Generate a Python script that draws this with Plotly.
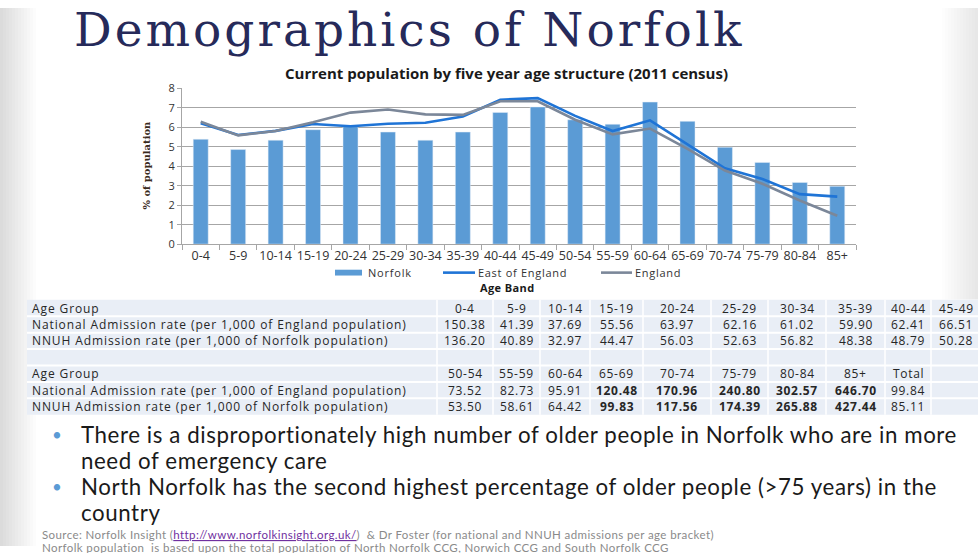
import plotly.graph_objects as go

W, H = 978, 553

# ---------------- data ----------------
age_bands = ["0-4", "5-9", "10-14", "15-19", "20-24", "25-29", "30-34", "35-39", "40-44",
             "45-49", "50-54", "55-59", "60-64", "65-69", "70-74", "75-79", "80-84", "85+"]
norfolk = [5.39, 4.86, 5.34, 5.88, 6.05, 5.76, 5.34, 5.76, 6.77,
           7.05, 6.39, 6.16, 7.30, 6.31, 4.98, 4.20, 3.17, 2.97]
east_of_england = [6.21, 5.61, 5.82, 6.17, 6.06, 6.19, 6.24, 6.56, 7.42,
                   7.50, 6.59, 5.81, 6.36, 5.15, 3.90, 3.35, 2.57, 2.44]
england = [6.29, 5.59, 5.81, 6.26, 6.76, 6.92, 6.67, 6.64, 7.34,
           7.34, 6.39, 5.64, 5.94, 4.90, 3.78, 3.10, 2.24, 1.46]

table_groups_1 = ["0-4", "5-9", "10-14", "15-19", "20-24", "25-29", "30-34", "35-39", "40-44", "45-49"]
national_rate_1 = [150.38, 41.39, 37.69, 55.56, 63.97, 62.16, 61.02, 59.90, 62.41, 66.51]
nnuh_rate_1 = [136.20, 40.89, 32.97, 44.47, 56.03, 52.63, 56.82, 48.38, 48.79, 50.28]
table_groups_2 = ["50-54", "55-59", "60-64", "65-69", "70-74", "75-79", "80-84", "85+", "Total"]
national_rate_2 = [73.52, 82.73, 95.91, 120.48, 170.96, 240.80, 302.57, 646.70, 99.84]
nnuh_rate_2 = [53.50, 58.61, 64.42, 99.83, 117.56, 174.39, 265.88, 427.44, 85.11]
bold_groups = ["65-69", "70-74", "75-79", "80-84", "85+"]

row_labels = ["Age Group",
              "National Admission rate (per 1,000 of England population)",
              "NNUH Admission rate (per 1,000 of Norfolk population)"]


def px(x):
    return x / W


def py(y):
    return 1 - y / H


def spaced(text, ls):
    return f"<span style='letter-spacing:{ls}px'>{text}</span>"


BAR_BLUE = "#5b9bd5"
LINE_BLUE = "#1f74d6"
LINE_GREY = "#7b8799"
GRID = "#a6a6a6"
TXT = "#262626"

fig = go.Figure()

fig.add_trace(go.Bar(x=age_bands, y=norfolk, name="Norfolk", marker_color=BAR_BLUE,
                     showlegend=False))
fig.add_trace(go.Scatter(x=age_bands, y=east_of_england, name="East of England", mode="lines",
                         line=dict(color=LINE_BLUE, width=2.6), showlegend=False))
fig.add_trace(go.Scatter(x=age_bands, y=england, name="England", mode="lines",
                         line=dict(color=LINE_GREY, width=2.6), showlegend=False))

shapes = []
annotations = []


def ann(text, x, y, size, color=TXT, family="Lato", xanchor="left", yanchor="middle", **kw):
    annotations.append(dict(text=text, x=px(x), y=py(y), xref="paper", yref="paper",
                            showarrow=False, xanchor=xanchor, yanchor=yanchor,
                            font=dict(family=family, size=size, color=color), **kw))


# soft grey slide edges
for i in range(12):
    shapes.append(dict(type="rect", xref="paper", yref="paper", layer="below",
                       x0=0, x1=px(3 * (i + 1)), y0=0, y1=1,
                       fillcolor="rgba(0,0,0,0.012)", line=dict(width=0)))
    shapes.append(dict(type="rect", xref="paper", yref="paper", layer="below",
                       x0=px(W - 3 * (i + 1)), x1=1, y0=py(300), y1=1,
                       fillcolor="rgba(0,0,0,0.008)", line=dict(width=0)))

# ---------------- table (drawn as cells) ----------------
TABLE_FILL = "#e9eef6"
col_edges = [27, 437, 493, 540, 590, 643, 711, 768, 826, 885, 931, 990]
row_top, row_h, n_rows = 300, 16.86, 7

rows = []
rows.append([row_labels[0]] + table_groups_1)
rows.append([row_labels[1]] + [f"{v:.2f}" for v in national_rate_1])
rows.append([row_labels[2]] + [f"{v:.2f}" for v in nnuh_rate_1])
rows.append([""] * 11)
rows.append([row_labels[0]] + table_groups_2 + [""])


def fmt(v, grp):
    s = f"{v:.2f}"
    return f"<b>{s}</b>" if grp in bold_groups else s


rows.append([row_labels[1]] + [fmt(v, g) for v, g in zip(national_rate_2, table_groups_2)] + [""])
rows.append([row_labels[2]] + [fmt(v, g) for v, g in zip(nnuh_rate_2, table_groups_2)] + [""])

shapes.append(dict(type="rect", xref="paper", yref="paper",
                   x0=px(col_edges[0]), x1=1, y0=py(row_top + n_rows * row_h), y1=py(row_top),
                   fillcolor=TABLE_FILL, line=dict(width=0)))
for r in range(1, n_rows):
    yy = row_top + r * row_h
    shapes.append(dict(type="line", xref="paper", yref="paper", x0=px(col_edges[0]), x1=1,
                       y0=py(yy), y1=py(yy), line=dict(color="white", width=2)))
for c in range(1, len(col_edges) - 1):
    xx = col_edges[c]
    shapes.append(dict(type="line", xref="paper", yref="paper", x0=px(xx), x1=px(xx),
                       y0=py(row_top + n_rows * row_h), y1=py(row_top),
                       line=dict(color="white", width=1.5)))

for r, row in enumerate(rows):
    yc = row_top + (r + 0.5) * row_h
    for c, val in enumerate(row):
        if not val:
            continue
        if c == 0:
            ann(spaced(val, 0.9), 30, yc, 12, family="Open Sans")
        else:
            xc = (col_edges[c] + col_edges[c + 1]) / 2 if c < 10 else 956
            ann(spaced(val, 0.7), xc, yc, 12, family="Open Sans", xanchor="center")

# ---------------- manual legend ----------------
LEG_Y = 272
shapes.append(dict(type="rect", xref="paper", yref="paper", x0=px(335), x1=px(362),
                   y0=py(LEG_Y + 3), y1=py(LEG_Y - 3), fillcolor=BAR_BLUE, line=dict(width=0)))
shapes.append(dict(type="line", xref="paper", yref="paper", x0=px(443), x1=px(475),
                   y0=py(LEG_Y), y1=py(LEG_Y), line=dict(color=LINE_BLUE, width=2.6)))
shapes.append(dict(type="line", xref="paper", yref="paper", x0=px(601), x1=px(632),
                   y0=py(LEG_Y), y1=py(LEG_Y), line=dict(color=LINE_GREY, width=2.6)))

ann(spaced("Norfolk", 0.8), 366, LEG_Y, 11, color="#333333", family="Open Sans")
ann(spaced("East of England", 0.7), 476, LEG_Y, 11, color="#333333", family="Open Sans")
ann(spaced("England", 0.7), 633, LEG_Y, 11, color="#333333", family="Open Sans")
ann(spaced("<b>Age Band</b>", 0.4), 507, 287, 11, color="#1a1a1a", family="Open Sans",
    xanchor="center")

# ---------------- titles and text ----------------
ann(spaced("Demographics of Norfolk", 3), 409, 22, 47,
    color="#262a5a", family="DejaVu Serif", xanchor="center")
ann("<b>Current population by five year age structure (2011 census)</b>", 506, 67, 15,
    color="#1a1a1a", family="Open Sans", xanchor="center")
ann("<b>% of population</b>", 147, 162, 10, color="#3a2a1c", family="DejaVu Serif",
    xanchor="center", textangle=-90)

BULLET = "#5b9bd5"
BODY = 22.3
BODY_LS = 0.58
ann("•", 57, 438, 17, color=BULLET, xanchor="center")
ann(spaced("There is a disproportionately high number of older people in Norfolk who are in more", BODY_LS),
    79, 438, BODY, color="#1a1a1a")
ann(spaced("need of emergency care", BODY_LS), 79, 465, BODY, color="#1a1a1a")
ann("•", 57, 492, 17, color=BULLET, xanchor="center")
ann(spaced("North Norfolk has the second highest percentage of older people (>75 years) in the", BODY_LS),
    79, 492, BODY, color="#1a1a1a")
ann(spaced("country", BODY_LS), 79, 519, BODY, color="#1a1a1a")

ann(spaced("Source: Norfolk Insight (<span style='color:#7030a0'><u>http://www.norfolkinsight.org.uk/</u></span>)"
           "  &amp; Dr Foster (for national and NNUH admissions per age bracket)", 0.4),
    40, 541, 11.5, color="#8a8a8a")
ann(spaced("Norfolk population  is based upon the total population of North Norfolk CCG, Norwich CCG and South Norfolk CCG", 0.4),
    40, 555, 11.5, color="#8a8a8a")

fig.update_layout(
    width=W, height=H, margin=dict(l=0, r=0, t=0, b=0),
    paper_bgcolor="white", plot_bgcolor="rgba(0,0,0,0)",
    bargap=0.6, showlegend=False,
    shapes=shapes, annotations=annotations,
    xaxis=dict(domain=[px(182), px(856)], type="category",
               showline=True, linecolor=GRID, linewidth=1,
               ticks="outside", tickson="boundaries", ticklen=5, tickcolor=GRID,
               tickangle=0,
               tickfont=dict(family="Open Sans", size=12.5, color="#333333"),
               showgrid=False, fixedrange=True),
    yaxis=dict(domain=[py(242.7), py(82.7)], range=[0, 8], dtick=1,
               showline=True, linecolor=GRID, linewidth=1,
               ticks="outside", ticklen=4, tickcolor=GRID,
               showgrid=True, gridcolor=GRID, gridwidth=1, zeroline=False,
               tickfont=dict(family="Open Sans", size=11, color="#333333"),
               fixedrange=True),
)

fig.write_html("out.html")
